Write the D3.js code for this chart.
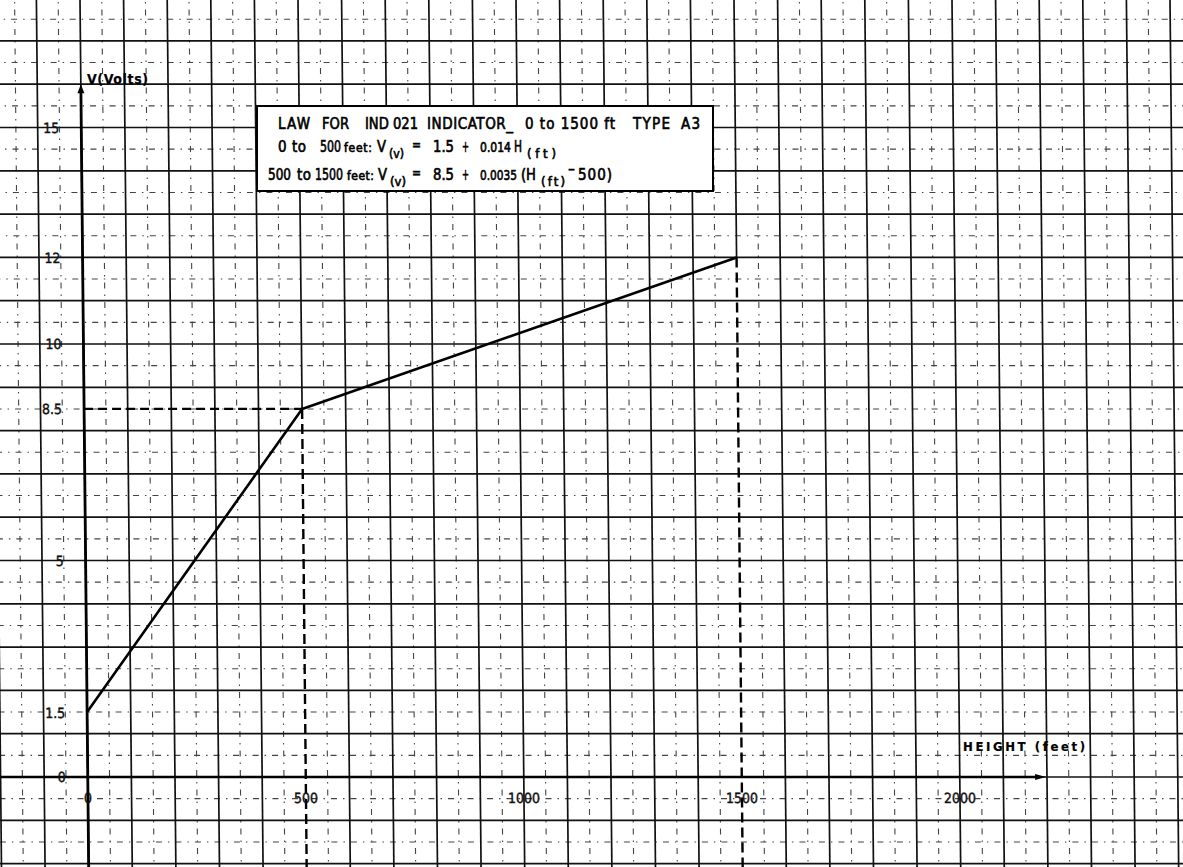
<!DOCTYPE html>
<html><head><meta charset="utf-8">
<script src="https://cdn.jsdelivr.net/npm/d3@7"></script>
<style>html,body{margin:0;padding:0;background:#fff;overflow:hidden}</style>
</head><body>
<svg id="chart" width="1183" height="867"></svg>
<script>
// ---- data ----
const heightsFt = [0, 500, 1500];
const voltages = [1.5, 8.5, 12];
const xTickValues = [0, 500, 1000, 1500, 2000];
const xTickLabels = ["0", "500", "1000", "1500", "2000"];
const yTickValues = [0, 1.5, 5, 8.5, 10, 12, 15];
const yTickLabels = ["0", "1.5", "5", "8.5", "10", "12", "15"];
const xAxisTitle = "HEIGHT (feet)";
const yAxisTitle = "V(Volts)";
const lawTitle = ["LAW", "FOR", "IND 021", "INDICATOR_", "0 to 1500 ft", "TYPE", "A3"];
const lawLine1 = ["0 to", "500", "feet:", "V", "(v)", "=", "1.5", "+", "0.014", "H", "(ft)"];
const lawLine2 = ["500", "to", "1500", "feet:", "V", "(v)", "=", "8.5", "+", "0.0035", "(H", "(ft)", "-", "500)"];

// ---- drawing ----
const W = 1183, H = 867;
const FONT = '"DejaVu Sans Condensed","Liberation Sans Narrow","Arial Narrow","DejaVu Sans",sans-serif';
const svg = d3.select("#chart");
svg.append("rect").attr("width", W).attr("height", H).attr("fill", "#fff");

// the scanned sheet is slightly sheared
const g = svg.append("g").attr("transform", "matrix(1,0,0.01,1,-8,0)");

const x = d3.scaleLinear().domain([0, 2000]).range([88, 960]);
const y = d3.scaleLinear().domain([0, 15]).range([777, 127.5]);

const gridX = d3.range(-200, 2651, 50);
const gridY = d3.range(-2, 18.01, 0.5);

// dashed minor grid
const grid = g.append("g");
grid.selectAll("line.vmin").data(gridX.filter(v => v % 100 !== 0)).join("line")
  .attr("x1", d => x(d)).attr("x2", d => x(d)).attr("y1", -10).attr("y2", H + 10)
  .attr("stroke", "#444").attr("stroke-width", 1.1).attr("stroke-dasharray", "6,6,1.5,6");
grid.selectAll("line.hmin").data(gridY.filter(v => !Number.isInteger(v))).join("line")
  .attr("y1", d => y(d)).attr("y2", d => y(d)).attr("x1", -20).attr("x2", W + 20)
  .attr("stroke", "#444").attr("stroke-width", 1.1).attr("stroke-dasharray", "6,6,1.5,6");

// solid major grid (lines at break points are replaced by dashed guides below the curve)
grid.selectAll("line.vmaj").data(gridX.filter(v => v % 100 === 0)).join("line")
  .attr("x1", d => x(d)).attr("x2", d => x(d)).attr("y1", -10)
  .attr("y2", d => { const i = heightsFt.indexOf(d); return i > 0 ? y(voltages[i]) : H + 10; })
  .attr("stroke", "#111").attr("stroke-width", 1.7);
grid.selectAll("line.hmaj").data(gridY.filter(v => Number.isInteger(v))).join("line")
  .attr("y1", d => y(d)).attr("y2", d => y(d)).attr("x1", -20).attr("x2", W + 20)
  .attr("stroke", "#111").attr("stroke-width", 1.7);

// guides
const pts = heightsFt.map((h, i) => ({h, v: voltages[i]}));
g.selectAll("line.vguide").data(pts.slice(1)).join("line")
  .attr("x1", d => x(d.h)).attr("x2", d => x(d.h)).attr("y1", d => y(d.v)).attr("y2", H + 10)
  .attr("stroke", "#000").attr("stroke-width", 2.4).attr("stroke-dasharray", "10,5");
g.selectAll("line.hguide").data([pts[1]]).join("line")
  .attr("x1", x(0)).attr("x2", d => x(d.h)).attr("y1", d => y(d.v)).attr("y2", d => y(d.v))
  .attr("stroke", "#000").attr("stroke-width", 2.2).attr("stroke-dasharray", "9,5");

// axes
g.append("line").attr("x1", x(0)).attr("x2", x(0)).attr("y1", H + 10).attr("y2", y(15.8))
  .attr("stroke", "#000").attr("stroke-width", 2.8);
g.append("path").attr("d", `M${x(0)},${y(16)} l-3.5,9 l7,0 z`).attr("fill", "#000");
g.append("line").attr("x1", -20).attr("x2", x(2180)).attr("y1", y(0)).attr("y2", y(0))
  .attr("stroke", "#000").attr("stroke-width", 2.4);
g.append("path").attr("d", `M${x(2198)},${y(0)} l-11,-3 l0,6 z`).attr("fill", "#000");

// curve
g.append("path").datum(pts)
  .attr("d", d3.line().x(d => x(d.h)).y(d => y(d.v)))
  .attr("fill", "none").attr("stroke", "#000").attr("stroke-width", 2.6).attr("stroke-linejoin", "round");

// tick labels
g.selectAll("text.yt").data(yTickValues).join("text")
  .attr("x", x(0) - 22).attr("y", d => y(d) + 5.5).attr("text-anchor", "end")
  .attr("font-family", FONT).attr("font-size", 14).attr("fill", "#111")
  .attr("stroke", "#111").attr("stroke-width", 0.4)
  .text((d, i) => yTickLabels[i]);
g.selectAll("text.xt").data(xTickValues).join("text")
  .attr("x", d => x(d)).attr("y", y(0) + 26).attr("text-anchor", "middle")
  .attr("font-family", FONT).attr("font-size", 14).attr("fill", "#111")
  .attr("stroke", "#111").attr("stroke-width", 0.4)
  .text((d, i) => xTickLabels[i]);

// ---- annotations (placed on the sheet) ----
function seg(parent, t, x0, x1, base, size, weight, sw) {
  const el = parent.append("text").attr("x", x0).attr("y", base)
    .attr("font-family", FONT).attr("font-size", size).attr("font-weight", weight || "normal")
    .attr("fill", "#000").attr("stroke", "#000").attr("stroke-width", sw == null ? 0.6 : sw)
    .text(t);
  const nat = el.node().getComputedTextLength();
  const target = x1 - x0;
  el.attr("textLength", target)
    .attr("lengthAdjust", nat > target || t.length === 1 ? "spacingAndGlyphs" : "spacing");
}
seg(svg, yAxisTitle, 87, 148, 84, 14, "bold", 0.2);
seg(svg, xAxisTitle, 963, 1085, 751, 13, "bold", 0.2);

const box = svg.append("g");
box.append("rect").attr("x", 257).attr("y", 106).attr("width", 456).attr("height", 85)
  .attr("fill", "#fff").attr("stroke", "#000").attr("stroke-width", 2);

const l0 = [[278,310],[322,349],[365,418],[427,513],[525,615],[633,670],[681,700]];
lawTitle.forEach((t, i) => seg(box, t, l0[i][0], l0[i][1], 129, 15));

const l1 = [[278,306,152,15],[320,341,152,15],[344,372,152,12],[377,386,152,15],
            [389,404,158,13],[412,421,150,15],[433,454,152,15],[462,469,152,15],
            [480,511,152,13.5],[514,522,152,15],[527,556,158,13]];
lawLine1.forEach((t, i) => seg(box, t, l1[i][0], l1[i][1], l1[i][2], l1[i][3]));

const l2 = [[268,291,180,15],[297,311,180,15],[315,343,180,15],[347,374,180,12],
            [378,387,180,15],[390,406,186,13],[412,421,178,15],[433,454,180,15],
            [462,469,180,15],[480,517,180,13.5],[521,536,180,15],[541,565,186,13],
            [568,575,174,15],[578,612,180,15]];
lawLine2.forEach((t, i) => seg(box, t, l2[i][0], l2[i][1], l2[i][2], l2[i][3]));
</script>
</body></html>
